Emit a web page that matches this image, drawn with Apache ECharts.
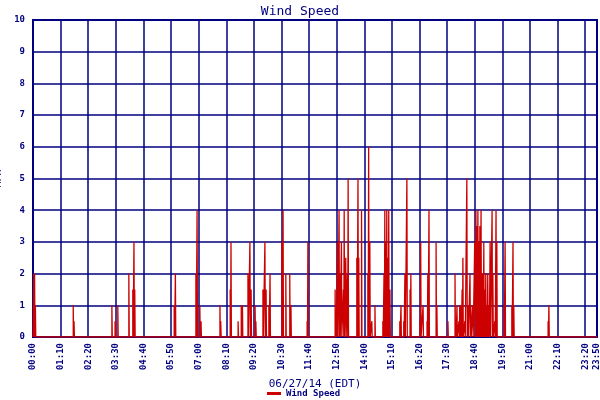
<!DOCTYPE html>
<html><head><meta charset="utf-8">
<script src="https://cdn.jsdelivr.net/npm/echarts@6/dist/echarts.min.js"></script>
<style>html,body{margin:0;padding:0;background:#fff}#c{width:600px;height:400px}</style>
</head><body><div id="c"></div>
<script>
const spikeMinutes = [2,4,6,102,104,200,208,215,243,253,256,258,358,361,413,416,423,426,474,476,500,502,520,528,531,545,550,553,563,565,583,588,591,598,601,631,634,641,651,654,
695,697,766,768,772,776,778,782,787,789,793,797,799,821,824,826,833,849,851,854,859,867,
887,890,892,895,897,900,902,905,930,933,940,943,948,956,958,981,983,989,999,1001,1004,1022,1024,1052,
1070,1072,1075,1080,1082,1085,1088,1090,1095,1100,1103,1108,1110,1115,1120,1123,1126,1128,1131,1133,1136,1138,1141,1143,1146,1148,1151,1153,1156,1159,1164,1166,1171,1174,1176,1194,1197,1214,1217,1219,1306,1308];
const spikeValues = [2,2,1,1,0.5,1,0.5,1,2,1.5,3,1.5,1,2,2,4,1,0.5,1,0.5,1.5,3,0.5,1,1,2,3,1.5,1,0.5,1.5,3,1.5,1,2,3,4,2,2,1,0.5,
3,1.5,0.5,3,4,2,3,1.5,4,2.5,2,5,2.5,5,2.5,4,2,6,3,0.5,1,0.5,
2,4,3,4,2.5,4,1.5,0.5,1,0.5,2,5,1.5,2,0.5,3,1,0.5,2,4,3,1,0.5,2,
0.5,1,0.5,1,1,1.5,2.5,0.5,5,1,2,1,1,3,4,3.5,4,3,3.5,4,2,2,3,1.5,2,1,2,1,3,4,2,0.5,4,3,1,3,1,3,1,0.5,1,0.5];
const xTickMinutes = [0,70,140,210,280,350,420,490,560,630,700,770,840,910,980,1050,1120,1190,1260,1330,1400,1430];
const yTicks = [0,1,2,3,4,5,6,7,8,9,10];

const pts = [[0,0]];
spikeMinutes.forEach((t,i)=>{ pts.push([t,0],[t,spikeValues[i]],[t+1,spikeValues[i]],[t+1,0]); });
pts.push([1430,0]);
const fmt = m => String(Math.floor(m/60)).padStart(2,'0')+':'+String(m%60).padStart(2,'0');
const navy='#000080', F='DejaVu Sans Mono';
const chart = echarts.init(document.getElementById('c'));
chart.setOption({
  animation:false,
  title:{text:'Wind Speed',left:'center',top:0,textStyle:{color:navy,fontFamily:F,fontSize:13,fontWeight:'normal'}},
  grid:{left:33,right:3,top:20,bottom:63,containLabel:false,outerBoundsMode:'none',show:true,borderColor:navy,borderWidth:2},
  legend:{bottom:-3,left:262,itemWidth:14,itemHeight:3,icon:'rect',textStyle:{color:navy,fontFamily:F,fontSize:9,fontWeight:'bold'},data:['Wind Speed']},
  xAxis:{type:'value',min:0,max:1430,interval:70,name:'06/27/14 (EDT)',nameLocation:'middle',nameGap:42,
    nameTextStyle:{color:navy,fontFamily:F,fontSize:11},
    axisLine:{lineStyle:{color:navy,width:2}},axisTick:{show:false},
    axisLabel:{customValues:xTickMinutes,rotate:90,formatter:fmt,color:navy,fontFamily:F,fontSize:9,fontWeight:'bold',margin:6},
    splitLine:{show:true,lineStyle:{color:navy,width:1.5}}},
  yAxis:{type:'value',min:0,max:10,interval:1,name:'MPH',nameLocation:'middle',nameGap:24,
    nameTextStyle:{color:navy,fontFamily:F,fontSize:10},
    axisLine:{lineStyle:{color:navy,width:2}},axisTick:{show:false},
    axisLabel:{color:navy,fontFamily:F,fontSize:9,fontWeight:'bold',margin:8},
    splitLine:{show:true,lineStyle:{color:navy,width:1.5}}},
  series:[{name:'Wind Speed',type:'line',data:pts,showSymbol:false,symbol:'none',
    lineStyle:{color:'#cc0000',width:1.3},itemStyle:{color:'#cc0000'}}]
});
</script></body></html>
